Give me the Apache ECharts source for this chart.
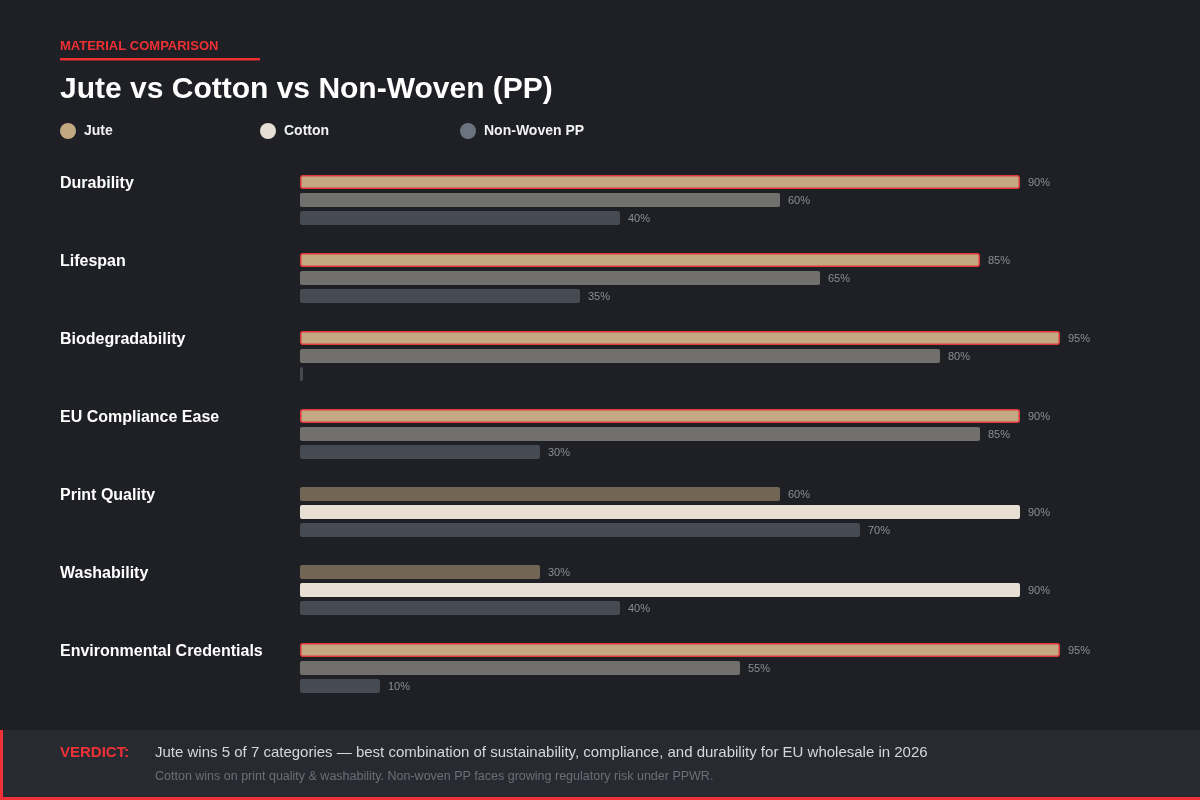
<!DOCTYPE html>
<html>
<head>
<meta charset="utf-8">
<script src="https://cdn.jsdelivr.net/npm/echarts@6/dist/echarts.min.js"></script>
<style>
html,body{margin:0;padding:0;background:#1e2025;}
#chart{width:1200px;height:800px;}
</style>
</head>
<body>
<div id="chart"></div>
<script>
var categories = ['Durability','Lifespan','Biodegradability','EU Compliance Ease','Print Quality','Washability','Environmental Credentials'];
var juteValues = [90, 85, 95, 90, 60, 30, 95];
var cottonValues = [60, 65, 80, 85, 90, 90, 55];
var nonWovenValues = [40, 35, 0, 30, 70, 40, 10];
var seriesNames = ['Jute','Cotton','Non-Woven PP'];

var FONT = '"Liberation Sans", Arial, Helvetica, sans-serif';
var BG = '#1e2025';
var RED = '#ef3136';

function winnerIndex(i){
  var vals = [juteValues[i], cottonValues[i], nonWovenValues[i]];
  var best = 0;
  for (var k = 1; k < vals.length; k++) if (vals[k] > vals[best]) best = k;
  return best;
}

function buildData(values, idx, winColor, loseColor, winBorder){
  return values.map(function(v, i){
    var win = winnerIndex(i) === idx;
    var style = {color: win ? winColor : loseColor};
    if (win && winBorder) { style.borderColor = '#e0383b'; style.borderWidth = 1.5; }
    return {value: v, itemStyle: style};
  });
}

var labelCfg = {
  show: true, position: 'right', distance: 8, offset: [0, 1],
  color: '#8b8e94', fontSize: 11, fontFamily: FONT,
  formatter: function(p){ return p.value > 0 ? p.value + '%' : ''; }
};

var legendText = {color: '#f2f2f2', fontSize: 14, fontWeight: 'bold', fontFamily: FONT, padding: [0,0,0,3]};

var chart = echarts.init(document.getElementById('chart'), null, {renderer: 'canvas'});
chart.setOption({
  backgroundColor: BG,
  animation: false,
  textStyle: {fontFamily: FONT},
  legend: [
    {data: ['Jute'], left: 60, top: 123, padding: 0, icon: 'circle', itemWidth: 16, itemHeight: 16, textStyle: legendText},
    {data: ['Cotton'], left: 260, top: 123, padding: 0, icon: 'circle', itemWidth: 16, itemHeight: 16, textStyle: legendText},
    {data: ['Non-Woven PP'], left: 460, top: 123, padding: 0, icon: 'circle', itemWidth: 16, itemHeight: 16, textStyle: legendText}
  ],
  grid: {left: 300, width: 800, top: 161, height: 546, containLabel: false},
  xAxis: {type: 'value', min: 0, max: 100, show: false},
  yAxis: {
    type: 'category', data: categories, inverse: true,
    axisLine: {show: false}, axisTick: {show: false}, splitLine: {show: false},
    axisLabel: {
      align: 'left', margin: 240, color: '#ffffff', fontSize: 16, fontWeight: 'bold',
      fontFamily: FONT, verticalAlign: 'middle', lineHeight: 32,
      formatter: function(v){ return v + '\n '; }
    }
  },
  series: [
    {name: seriesNames[0], type: 'bar', barWidth: 14, barGap: '28.6%', barMinHeight: 3,
     itemStyle: {color: '#c4a882', borderRadius: 2},
     data: buildData(juteValues, 0, '#c4a882', '#736553', true), label: labelCfg},
    {name: seriesNames[1], type: 'bar', barWidth: 14, barGap: '28.6%', barMinHeight: 3,
     itemStyle: {color: '#e8dfd4', borderRadius: 2},
     data: buildData(cottonValues, 1, '#e8dfd4', '#72706c', false), label: labelCfg},
    {name: seriesNames[2], type: 'bar', barWidth: 14, barGap: '28.6%', barMinHeight: 3,
     itemStyle: {color: '#6b7280', borderRadius: 2},
     data: buildData(nonWovenValues, 2, '#6b7280', '#464a53', false), label: labelCfg}
  ],
  graphic: [
    {type: 'text', left: 60, top: 40, style: {text: 'MATERIAL COMPARISON', fill: RED, font: 'bold 13px ' + FONT}},
    {type: 'rect', shape: {x: 60, y: 58, width: 200, height: 2.5}, style: {fill: RED}},
    {type: 'text', left: 60, top: 75, style: {text: 'Jute vs Cotton vs Non-Woven (PP)', fill: '#ffffff', font: 'bold 30px ' + FONT}},
    {type: 'rect', shape: {x: 0, y: 730, width: 1200, height: 70}, style: {fill: '#272a31'}},
    {type: 'rect', shape: {x: 0, y: 730, width: 3, height: 70}, style: {fill: RED}},
    {type: 'rect', shape: {x: 0, y: 797, width: 1200, height: 3}, style: {fill: RED}},
    {type: 'text', left: 60, top: 745, style: {text: 'VERDICT:', fill: RED, font: 'bold 15px ' + FONT}},
    {type: 'text', left: 155, top: 745, style: {text: 'Jute wins 5 of 7 categories \u2014 best combination of sustainability, compliance, and durability for EU wholesale in 2026', fill: '#d6d7da', font: '15px ' + FONT}},
    {type: 'text', left: 155, top: 770, style: {text: 'Cotton wins on print quality & washability. Non-woven PP faces growing regulatory risk under PPWR.', fill: '#6c6f76', font: '12.5px ' + FONT}}
  ]
});
</script>
</body>
</html>
